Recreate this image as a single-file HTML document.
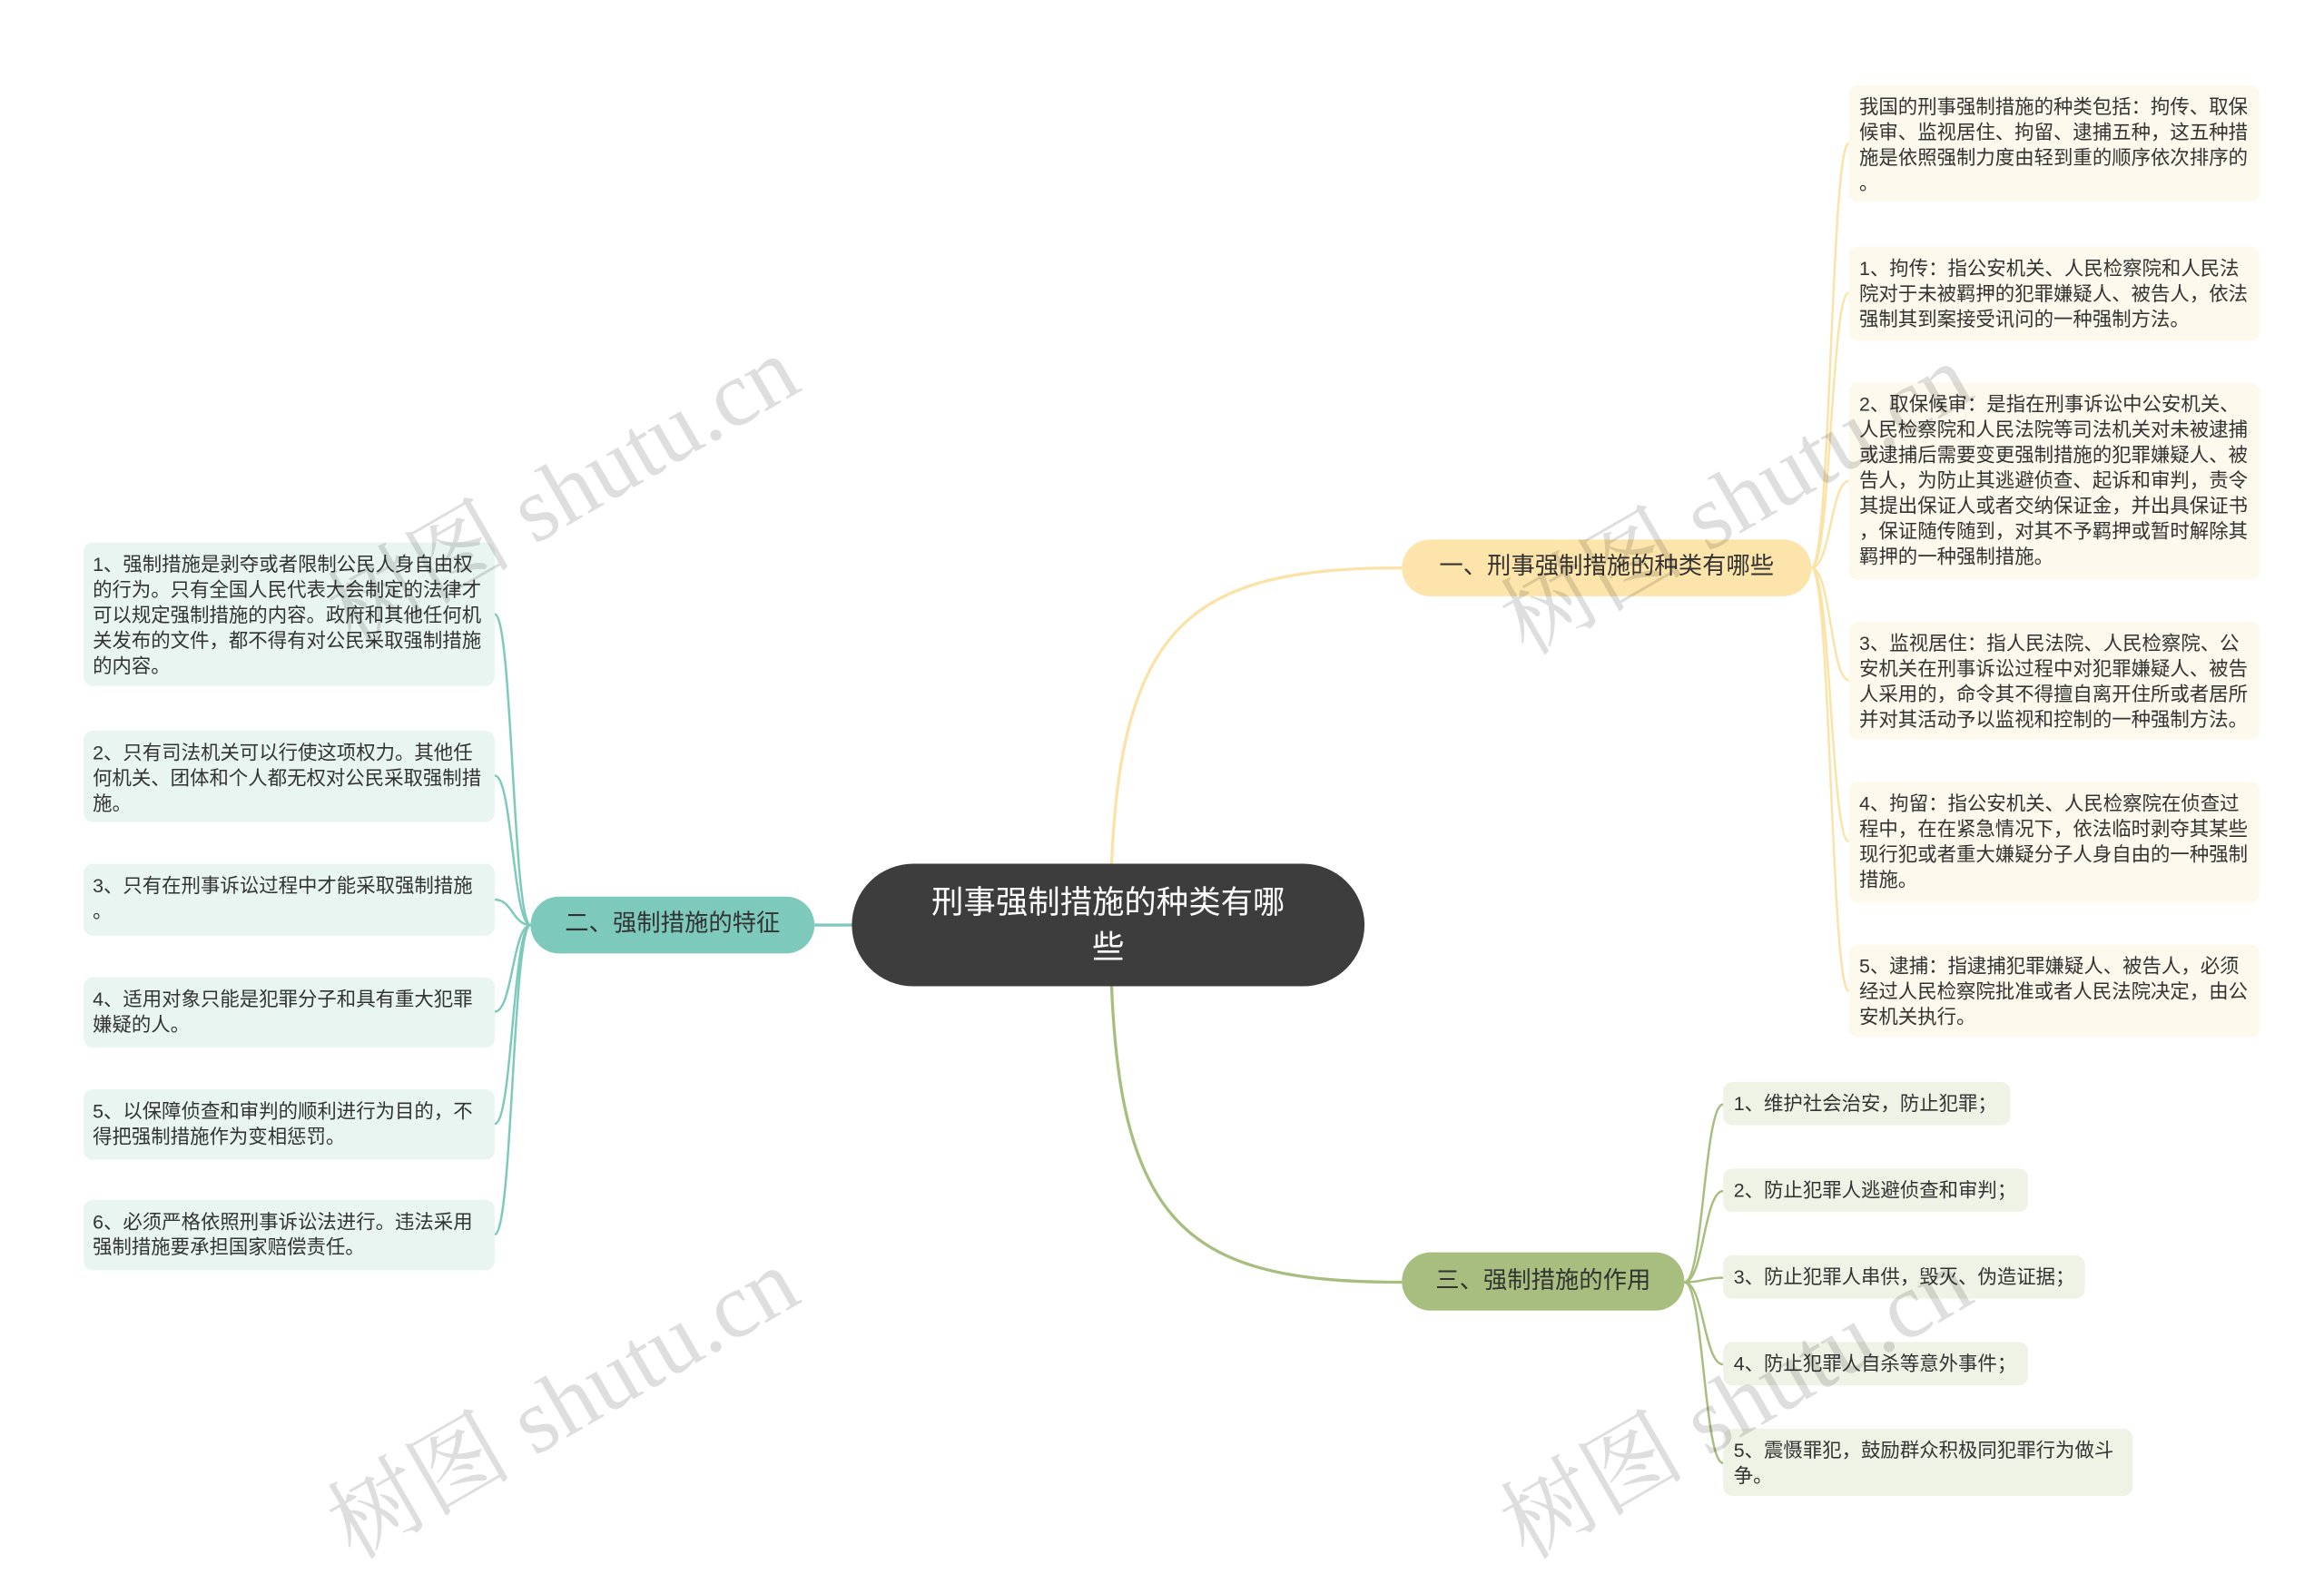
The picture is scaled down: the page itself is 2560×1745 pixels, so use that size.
<!DOCTYPE html>
<html><head><meta charset="utf-8"><style>
html,body{margin:0;padding:0;background:#fff;width:2560px;height:1727px;overflow:hidden}
#s{position:absolute;left:0;top:0;width:1555px;height:1049px;transform:scale(1.6463);transform-origin:0 0;font-family:"Liberation Sans","Noto Sans CJK SC",sans-serif}
.b{position:absolute;box-sizing:border-box;border-radius:6px;font-size:13px;line-height:17px;padding:6px 6px;color:#333}
.r{background:#fdf9ec;left:1237px;width:275px;padding:6px 2px 6px 7px;white-space:nowrap}
.l{background:#e8f5f1;left:56px;width:275px}
.g{background:#eff3e6;left:1153px;padding:6px 7px;white-space:nowrap}
.n{position:absolute;box-sizing:border-box;border-radius:20px;font-size:16px;text-align:center;color:#333}
.w{position:absolute;font-family:"Liberation Serif","Noto Serif CJK SC",serif;font-size:62px;color:rgba(0,0,0,0.13);transform:rotate(-30deg);white-space:nowrap;transform-origin:center}
</style></head><body><div id="s">
<svg width="1555" height="1049" style="position:absolute;left:0;top:0" fill="none">
<path d="M743 619 C743 420 790 380 938 380" stroke="#fbe3a8" stroke-width="2"/>
<path d="M743 619 C743 820 790 858 938 858" stroke="#a7be7e" stroke-width="2"/>
<path d="M545 619 L741 619" stroke="#7dc9bc" stroke-width="2"/>
<g stroke="#fbe3a8" stroke-width="1.5">
<path d="M1212 380 C1225 380 1225 96 1237 96"/>
<path d="M1212 380 C1225 380 1225 196 1237 196"/>
<path d="M1212 380 C1225 380 1225 322 1237 322"/>
<path d="M1212 380 C1225 380 1225 455 1237 455"/>
<path d="M1212 380 C1225 380 1225 563 1237 563"/>
<path d="M1212 380 C1225 380 1225 663 1237 663"/>
</g>
<g stroke="#7dc9bc" stroke-width="1.5">
<path d="M355 619 C343 619 343 411 331 411"/>
<path d="M355 619 C343 619 343 519 331 519"/>
<path d="M355 619 C343 619 343 602 331 602"/>
<path d="M355 619 C343 619 343 677 331 677"/>
<path d="M355 619 C343 619 343 752 331 752"/>
<path d="M355 619 C343 619 343 826 331 826"/>
</g>
<g stroke="#a7be7e" stroke-width="1.5">
<path d="M1127 858 C1140 858 1140 739 1153 739"/>
<path d="M1127 858 C1140 858 1140 797 1153 797"/>
<path d="M1127 858 C1140 858 1140 855 1153 855"/>
<path d="M1127 858 C1140 858 1140 913 1153 913"/>
<path d="M1127 858 C1140 858 1140 979 1153 979"/>
</g>
</svg>
<div class="n" style="left:570px;top:578px;width:343px;height:82px;border-radius:41px;background:#3d3d3d;color:#fff;font-size:21.5px;line-height:30px;padding:11px 46px 0">刑事强制措施的种类有哪些</div>
<div class="n" style="left:938px;top:361px;width:274px;height:38px;line-height:38px;background:#fde4ab">一、刑事强制措施的种类有哪些</div>
<div class="n" style="left:355px;top:600px;width:190px;height:38px;line-height:38px;background:#7dc9bc">二、强制措施的特征</div>
<div class="n" style="left:938px;top:838px;width:189px;height:39px;line-height:39px;background:#a7be7e">三、强制措施的作用</div>

<div class="b r" style="top:57px;height:78px">我国的刑事强制措施的种类包括：拘传、取保<br>候审、监视居住、拘留、逮捕五种，这五种措<br>施是依照强制力度由轻到重的顺序依次排序的<br>。</div>
<div class="b r" style="top:165px;height:63px">1、拘传：指公安机关、人民检察院和人民法<br>院对于未被羁押的犯罪嫌疑人、被告人，依法<br>强制其到案接受讯问的一种强制方法。</div>
<div class="b r" style="top:256px;height:132px">2、取保候审：是指在刑事诉讼中公安机关、<br>人民检察院和人民法院等司法机关对未被逮捕<br>或逮捕后需要变更强制措施的犯罪嫌疑人、被<br>告人，为防止其逃避侦查、起诉和审判，责令<br>其提出保证人或者交纳保证金，并出具保证书<br>，保证随传随到，对其不予羁押或暂时解除其<br>羁押的一种强制措施。</div>
<div class="b r" style="top:416px;height:79px">3、监视居住：指人民法院、人民检察院、公<br>安机关在刑事诉讼过程中对犯罪嫌疑人、被告<br>人采用的，命令其不得擅自离开住所或者居所<br>并对其活动予以监视和控制的一种强制方法。</div>
<div class="b r" style="top:523px;height:81px">4、拘留：指公安机关、人民检察院在侦查过<br>程中，在在紧急情况下，依法临时剥夺其某些<br>现行犯或者重大嫌疑分子人身自由的一种强制<br>措施。</div>
<div class="b r" style="top:632px;height:62px">5、逮捕：指逮捕犯罪嫌疑人、被告人，必须<br>经过人民检察院批准或者人民法院决定，由公<br>安机关执行。</div>

<div class="b l" style="top:363px;height:96px">1、强制措施是剥夺或者限制公民人身自由权的行为。只有全国人民代表大会制定的法律才可以规定强制措施的内容。政府和其他任何机关发布的文件，都不得有对公民采取强制措施的内容。</div>
<div class="b l" style="top:489px;height:61px">2、只有司法机关可以行使这项权力。其他任何机关、团体和个人都无权对公民采取强制措施。</div>
<div class="b l" style="top:578px;height:48px">3、只有在刑事诉讼过程中才能采取强制措施<br>。</div>
<div class="b l" style="top:654px;height:47px">4、适用对象只能是犯罪分子和具有重大犯罪嫌疑的人。</div>
<div class="b l" style="top:729px;height:47px">5、以保障侦查和审判的顺利进行为目的，不得把强制措施作为变相惩罚。</div>
<div class="b l" style="top:803px;height:47px">6、必须严格依照刑事诉讼法进行。违法采用强制措施要承担国家赔偿责任。</div>

<div class="b g" style="top:724px;width:192px;height:29px">1、维护社会治安，防止犯罪；</div>
<div class="b g" style="top:782px;width:204px;height:29px">2、防止犯罪人逃避侦查和审判；</div>
<div class="b g" style="top:840px;width:242px;height:29px">3、防止犯罪人串供，毁灭、伪造证据；</div>
<div class="b g" style="top:898px;width:204px;height:29px">4、防止犯罪人自杀等意外事件；</div>
<div class="b g" style="top:956px;width:274px;height:45px;white-space:normal">5、震慑罪犯，鼓励群众积极同犯罪行为做斗争。</div>

<div class="w" style="left:200px;top:280px">树图 shutu.cn</div>
<div class="w" style="left:985px;top:285px">树图 shutu.cn</div>
<div class="w" style="left:200px;top:890px">树图 shutu.cn</div>
<div class="w" style="left:985px;top:890px">树图 shutu.cn</div>
</div></body></html>
